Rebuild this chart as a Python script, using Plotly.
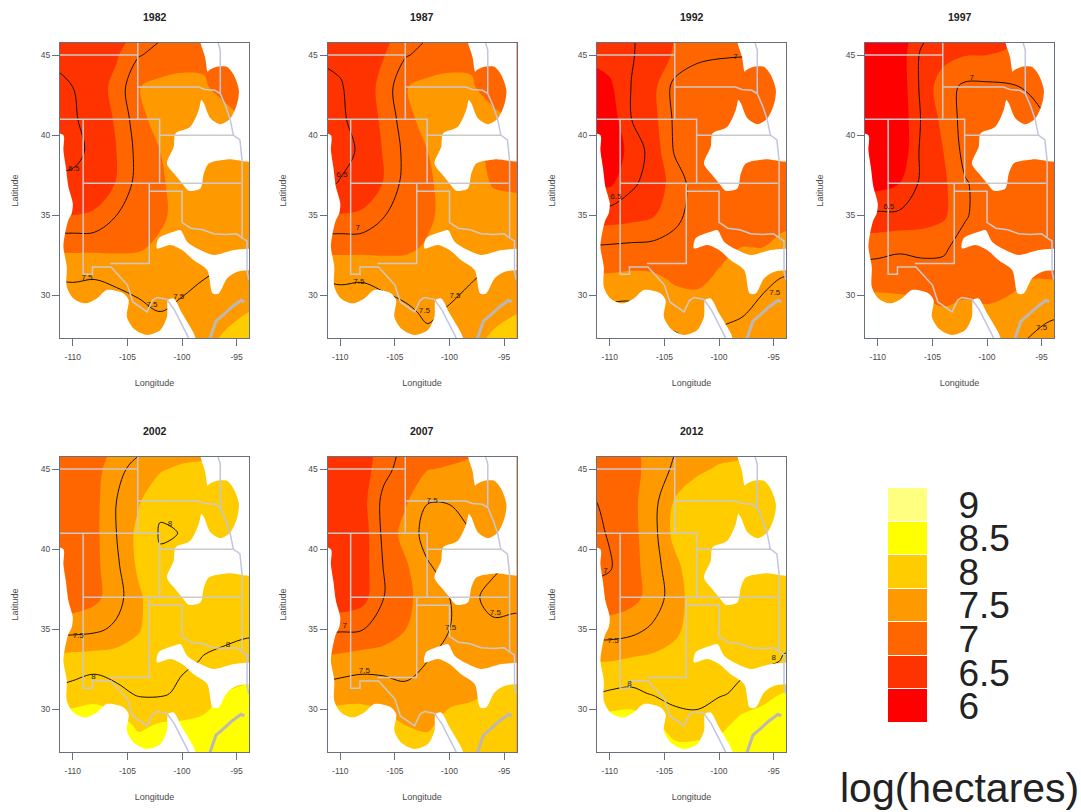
import plotly.graph_objects as go

YEARS = ["1982", "1987", "1992", "1997", "2002", "2007", "2012"]
LON = [-112, -110, -108, -106, -104, -102, -100, -98, -96, -94, -92]
LAT = [47, 45, 43, 41, 39, 37, 35, 33, 31, 29, 27]

Z_1982 = [
    [6.55, 6.55, 6.57, 6.62, 6.75, 6.90, 7.00, 7.10, 7.15, 7.15, 7.15],
    [6.55, 6.55, 6.60, 6.72, 6.98, 7.08, 7.15, 7.20, 7.20, 7.15, 7.15],
    [6.40, 6.50, 6.62, 6.83, 7.24, 7.32, 7.33, 7.28, 7.15, 7.10, 7.10],
    [6.40, 6.47, 6.60, 6.78, 7.15, 7.38, 7.42, 7.42, 7.35, 7.22, 7.20],
    [6.40, 6.42, 6.57, 6.75, 7.08, 7.25, 7.40, 7.50, 7.45, 7.40, 7.40],
    [6.55, 6.57, 6.62, 6.76, 7.10, 7.20, 7.40, 7.45, 7.45, 7.42, 7.42],
    [6.75, 6.75, 6.78, 7.00, 7.12, 7.20, 7.35, 7.40, 7.42, 7.42, 7.42],
    [7.20, 7.20, 7.20, 7.20, 7.22, 7.30, 7.40, 7.42, 7.42, 7.42, 7.42],
    [7.50, 7.49, 7.50, 7.46, 7.43, 7.42, 7.44, 7.50, 7.55, 7.56, 7.56],
    [7.60, 7.60, 7.60, 7.62, 7.55, 7.50, 7.55, 7.58, 7.62, 7.74, 7.80],
    [7.70, 7.70, 7.70, 7.70, 7.60, 7.60, 7.60, 7.65, 7.85, 8.00, 8.05],
]
Z_1987 = [
    [6.55, 6.55, 6.58, 6.65, 6.80, 6.92, 6.98, 7.08, 7.15, 7.15, 7.15],
    [6.55, 6.55, 6.62, 6.74, 6.98, 7.08, 7.15, 7.20, 7.20, 7.15, 7.15],
    [6.35, 6.48, 6.62, 6.83, 7.24, 7.32, 7.33, 7.28, 7.12, 7.08, 7.08],
    [6.32, 6.46, 6.60, 6.80, 7.15, 7.38, 7.42, 7.42, 7.33, 7.20, 7.20],
    [6.22, 6.40, 6.55, 6.77, 7.07, 7.25, 7.40, 7.50, 7.10, 7.05, 7.05],
    [6.40, 6.52, 6.62, 6.76, 7.10, 7.20, 7.38, 7.42, 7.22, 7.18, 7.18],
    [6.75, 6.76, 6.78, 6.99, 7.12, 7.20, 7.35, 7.40, 7.42, 7.42, 7.42],
    [7.18, 7.18, 7.18, 7.18, 7.20, 7.28, 7.40, 7.42, 7.42, 7.42, 7.42],
    [7.50, 7.48, 7.49, 7.45, 7.42, 7.40, 7.43, 7.49, 7.55, 7.56, 7.56],
    [7.60, 7.60, 7.60, 7.58, 7.53, 7.47, 7.52, 7.58, 7.62, 7.72, 7.80],
    [7.70, 7.70, 7.70, 7.65, 7.60, 7.55, 7.60, 7.65, 7.85, 8.00, 8.05],
]
Z_1992 = [
    [6.30, 6.35, 6.48, 6.60, 6.75, 6.80, 6.85, 6.85, 6.90, 6.90, 6.90],
    [6.32, 6.36, 6.48, 6.63, 6.78, 6.95, 6.98, 6.99, 7.00, 7.02, 7.02],
    [6.05, 6.20, 6.51, 6.68, 7.10, 7.14, 7.15, 7.15, 7.12, 7.10, 7.10],
    [6.05, 6.10, 6.50, 6.67, 7.06, 7.15, 7.18, 7.20, 7.20, 7.15, 7.15],
    [6.02, 6.05, 6.35, 6.60, 7.04, 7.15, 7.18, 7.20, 7.20, 7.18, 7.18],
    [6.20, 6.20, 6.45, 6.62, 6.85, 7.15, 7.18, 7.20, 7.20, 7.20, 7.20],
    [6.62, 6.62, 6.66, 6.73, 6.93, 7.12, 7.18, 7.20, 7.20, 7.20, 7.20],
    [7.02, 7.04, 7.06, 7.07, 7.10, 7.13, 7.16, 7.25, 7.25, 7.30, 7.30],
    [7.30, 7.30, 7.32, 7.30, 7.22, 7.18, 7.30, 7.40, 7.45, 7.52, 7.55],
    [7.58, 7.58, 7.58, 7.45, 7.38, 7.41, 7.45, 7.47, 7.56, 7.65, 7.70],
    [7.70, 7.70, 7.70, 7.60, 7.57, 7.50, 7.55, 7.62, 7.68, 7.72, 7.72],
]
Z_1997 = [
    [6.00, 6.05, 6.12, 6.35, 6.55, 6.65, 6.72, 6.72, 6.78, 6.80, 6.80],
    [6.05, 6.05, 6.10, 6.55, 6.66, 6.74, 6.75, 6.76, 6.80, 6.82, 6.82],
    [6.02, 6.02, 6.08, 6.56, 6.90, 7.05, 7.05, 7.03, 6.97, 6.93, 6.93],
    [6.02, 6.02, 6.06, 6.52, 6.82, 7.10, 7.12, 7.12, 7.08, 6.98, 6.98],
    [6.00, 6.02, 6.04, 6.56, 6.75, 7.08, 7.12, 7.13, 7.13, 7.13, 7.13],
    [6.10, 6.15, 6.25, 6.55, 6.70, 6.98, 7.10, 7.15, 7.15, 7.15, 7.15],
    [6.55, 6.55, 6.55, 6.60, 6.70, 6.98, 7.10, 7.15, 7.15, 7.15, 7.15],
    [6.90, 6.92, 6.97, 6.95, 6.97, 7.08, 7.12, 7.15, 7.15, 7.15, 7.15],
    [7.15, 7.15, 7.12, 7.10, 7.08, 7.12, 7.15, 7.20, 7.25, 7.25, 7.25],
    [7.40, 7.40, 7.40, 7.37, 7.28, 7.33, 7.28, 7.30, 7.38, 7.42, 7.42],
    [7.50, 7.50, 7.50, 7.45, 7.40, 7.42, 7.40, 7.42, 7.54, 7.72, 7.72],
]
Z_2002 = [
    [7.10, 7.10, 7.10, 7.25, 7.35, 7.45, 7.50, 7.55, 7.60, 7.60, 7.60],
    [7.15, 7.15, 7.15, 7.42, 7.60, 7.72, 7.80, 7.82, 7.85, 7.85, 7.85],
    [7.10, 7.10, 7.17, 7.50, 7.72, 7.96, 7.93, 7.93, 7.92, 7.90, 7.90],
    [7.00, 7.05, 7.18, 7.50, 7.82, 8.02, 7.995, 7.95, 7.92, 7.90, 7.90],
    [7.00, 7.05, 7.18, 7.45, 7.80, 7.96, 7.95, 7.95, 7.93, 7.93, 7.93],
    [7.05, 7.08, 7.18, 7.40, 7.70, 7.95, 7.97, 7.97, 7.96, 7.93, 7.93],
    [7.42, 7.42, 7.45, 7.55, 7.72, 7.96, 7.96, 7.96, 7.97, 7.97, 7.97],
    [7.85, 7.88, 7.90, 7.90, 7.92, 7.93, 7.97, 8.01, 8.03, 8.08, 8.08],
    [8.03, 8.08, 8.15, 8.05, 7.98, 7.97, 8.04, 8.10, 8.26, 8.32, 8.32],
    [8.45, 8.45, 8.45, 8.40, 8.20, 8.28, 8.29, 8.33, 8.40, 8.42, 8.42],
    [8.45, 8.45, 8.45, 8.45, 8.45, 8.42, 8.40, 8.40, 8.45, 8.45, 8.45],
]
Z_2007 = [
    [6.55, 6.55, 6.60, 6.85, 7.05, 7.05, 7.10, 7.15, 7.20, 7.20, 7.20],
    [6.60, 6.60, 6.62, 6.92, 7.12, 7.24, 7.27, 7.30, 7.32, 7.32, 7.32],
    [6.55, 6.55, 6.65, 7.08, 7.22, 7.49, 7.49, 7.44, 7.40, 7.40, 7.40],
    [6.55, 6.55, 6.60, 7.07, 7.35, 7.60, 7.58, 7.505, 7.45, 7.42, 7.42],
    [6.55, 6.55, 6.62, 7.02, 7.22, 7.48, 7.60, 7.60, 7.55, 7.45, 7.45],
    [6.55, 6.55, 6.65, 7.00, 7.20, 7.35, 7.50, 7.55, 7.42, 7.45, 7.45],
    [6.97, 6.97, 6.99, 7.10, 7.25, 7.38, 7.50, 7.56, 7.55, 7.55, 7.55],
    [7.30, 7.34, 7.40, 7.40, 7.42, 7.50, 7.60, 7.60, 7.60, 7.60, 7.60],
    [7.60, 7.65, 7.65, 7.62, 7.55, 7.60, 7.65, 7.68, 7.79, 7.81, 7.81],
    [7.90, 7.92, 7.95, 7.85, 7.75, 7.70, 7.87, 7.95, 7.95, 7.95, 7.95],
    [7.95, 7.95, 7.95, 7.95, 7.95, 7.95, 7.95, 7.95, 7.97, 7.97, 7.97],
]
Z_2012 = [
    [7.15, 7.15, 7.20, 7.35, 7.45, 7.55, 7.58, 7.62, 7.65, 7.65, 7.65],
    [7.10, 7.12, 7.17, 7.35, 7.55, 7.70, 7.78, 7.80, 7.85, 7.85, 7.85],
    [6.97, 7.05, 7.18, 7.42, 7.78, 7.92, 7.93, 7.93, 7.92, 7.92, 7.92],
    [6.92, 7.02, 7.17, 7.42, 7.85, 7.95, 7.96, 7.95, 7.93, 7.93, 7.93],
    [6.95, 6.98, 7.15, 7.40, 7.68, 7.97, 7.97, 7.97, 7.97, 7.97, 7.97],
    [7.05, 7.08, 7.17, 7.35, 7.65, 7.88, 7.97, 7.97, 7.97, 7.97, 7.97],
    [7.38, 7.38, 7.42, 7.55, 7.70, 7.88, 7.97, 7.97, 7.97, 7.97, 7.97],
    [7.75, 7.75, 7.80, 7.82, 7.85, 7.92, 7.98, 7.96, 7.97, 8.01, 8.01],
    [7.98, 8.03, 8.05, 7.98, 7.90, 7.88, 7.98, 8.03, 8.13, 8.26, 8.26],
    [8.42, 8.42, 8.45, 8.30, 8.15, 8.12, 8.15, 8.36, 8.45, 8.45, 8.45],
    [8.45, 8.45, 8.45, 8.40, 8.36, 8.40, 8.48, 8.45, 8.47, 8.47, 8.47],
]
GRIDS = [Z_1982, Z_1987, Z_1992, Z_1997, Z_2002, Z_2007, Z_2012]

# contour labels: (lon, lat, text)
LABELS_1982 = [(-109.9, 37.9, "6.5"), (-108.7, 31.1, "7.5"), (-102.75, 29.4, "7.5"), (-100.3, 29.9, "7.5")]
LABELS_1987 = [(-109.85, 37.5, "6.5"), (-108.4, 34.2, "7"), (-108.3, 30.85, "7.5"), (-102.3, 29.05, "7.5"), (-99.5, 30.0, "7.5")]
LABELS_1992 = [(-98.5, 44.85, "7"), (-109.45, 36.15, "6.5"), (-94.9, 30.15, "7.5")]
LABELS_1997 = [(-101.4, 43.55, "7"), (-109.0, 35.5, "6.5"), (-95.0, 27.95, "7.5")]
LABELS_2002 = [(-109.5, 34.6, "7.5"), (-108.1, 32.0, "8"), (-101.1, 41.55, "8"), (-95.8, 34.0, "8")]
LABELS_2007 = [(-109.6, 35.2, "7"), (-107.8, 32.4, "7.5"), (-101.6, 43.0, "7.5"), (-95.8, 36.0, "7.5"), (-99.9, 35.1, "7.5")]
LABELS_2012 = [(-110.4, 38.65, "7"), (-109.7, 34.3, "7.5"), (-108.2, 31.6, "8"), (-95.0, 33.2, "8")]
LABELS = [LABELS_1982, LABELS_1987, LABELS_1992, LABELS_1997, LABELS_2002, LABELS_2007, LABELS_2012]

# areas with no data (lon, lat outlines)
NODATA_NE = [(-98.3, 46.5), (-98.3, 45.77), (-97.9, 44.9), (-97.65, 43.96), (-97.5, 44.06), (-96.8, 44.27), (-95.9, 44.27),
             (-95.26, 43.75), (-94.8, 42.82), (-94.95, 41.99), (-95.57, 41.05), (-96.48, 40.68), (-97.4, 41.05), (-98.0, 41.99),
             (-98.23, 42.2), (-98.47, 41.57), (-99.24, 40.53), (-100.6, 40.11), (-100.76, 39.28), (-101.38, 38.24), (-100.76, 37.62),
             (-100.0, 37.0), (-99.39, 36.54), (-98.32, 36.68), (-98.0, 37.62), (-97.55, 38.24), (-95.87, 38.49), (-93.0, 38.49), (-93.0, 46.5)]
NODATA_GAP = [(-93.0, 32.94), (-95.26, 32.84), (-97.1, 32.53), (-98.32, 32.84), (-99.54, 33.36), (-100.15, 34.08), (-100.76, 33.98),
              (-102.14, 33.57), (-102.3, 32.94), (-101.07, 33.15), (-100.0, 32.84), (-98.93, 32.2), (-97.7, 31.59), (-97.19, 30.13),
              (-96.64, 30.13), (-95.87, 31.07), (-94.95, 31.49), (-93.0, 31.59)]
NODATA_SW = [(-112, 27), (-112, 40.1), (-110.86, 40.0), (-110.86, 39.07), (-110.64, 38.04), (-110.4, 36.79), (-110.0, 35.75),
             (-110.1, 35.12), (-110.4, 34.71), (-110.7, 33.88), (-110.86, 33.05), (-110.55, 31.8), (-110.55, 30.55), (-109.94, 29.82),
             (-108.87, 29.51), (-107.8, 29.82), (-106.88, 30.34), (-105.35, 30.13), (-104.89, 29.72), (-105.05, 28.68), (-104.43, 27.95),
             (-103.21, 27.54), (-101.99, 27.85), (-101.38, 28.68), (-101.28, 29.72), (-100.76, 29.82), (-100.0, 28.89), (-98.93, 27.64),
             (-98.62, 27.0), (-98.62, 26.5), (-112, 26.5)]
NODATA = [NODATA_NE, NODATA_GAP, NODATA_SW]

# state borders (lon, lat)
STATE_LINES = [
    [(-111.5, 45), (-104.05, 45)],
    [(-104.05, 46), (-104.05, 41)],
    [(-111.5, 41), (-102.05, 41), (-102.05, 37)],
    [(-104.05, 43), (-98.5, 43), (-97.9, 42.85), (-97, 42.8), (-96.5, 42.6)],
    [(-102.05, 40), (-95.3, 40)],
    [(-109.05, 37), (-94.6, 37)],
    [(-109.05, 41), (-109.05, 31.33), (-108.2, 31.33), (-108.2, 31.78), (-106.5, 31.78), (-105, 30.65), (-104.5, 29.6),
     (-103.2, 28.98), (-102.7, 29.7), (-102.3, 29.88), (-101.4, 29.77)],
    [(-103, 37), (-103, 32), (-106.6, 32)],
    [(-103, 36.5), (-100, 36.5), (-100, 34.56), (-99.2, 34.2), (-98.1, 34.1), (-97.1, 33.85), (-96, 33.8), (-95, 33.85), (-94.5, 33.6)],
    [(-94.5, 38.4), (-94.5, 33.6)],
]
RIVER_LINES = [
    [(-96.8, 46), (-96.5, 45.3), (-96.5, 42.6), (-96.0, 41.8), (-95.6, 41.0), (-95.3, 40), (-94.7, 39.7), (-94.5, 38.4)],
    [(-101.4, 29.77), (-100.7, 29.1), (-99.5, 27.5), (-99.3, 27.2)],
    [(-94.5, 33.6), (-94.05, 33.4), (-94.05, 31.5), (-93.9, 31)],
]
COAST = [(-97.5, 27.2), (-96.9, 28.4), (-96.3, 28.75), (-95.4, 29.3), (-94.6, 29.7), (-94.3, 29.6)]

LEVELS = ["6", "6.5", "7", "7.5", "8", "8.5", "9"]
LEVEL_VALUES = [6, 6.5, 7, 7.5, 8, 8.5, 9]
COLORS = ["#FF0000", "#FF3300", "#FF6600", "#FF9900", "#FFCC00", "#FFFF00", "#FFFF80"]

W, H = 1081, 812
PANEL_LEFT = [60, 327.5, 597, 865, 60, 327.5, 597]
PANEL_TOP = [43, 43, 43, 43, 457, 457, 457]
PANEL_W, PANEL_H = 189, 295
FONT = "Liberation Sans"
BOX = "#66707f"
TXT = "#4a4a4a"

scale = []
n = len(COLORS)
for i, c in enumerate(COLORS):
    scale.append([i / n, c])
    scale.append([(i + 1) / n, c])

fig = go.Figure()
layout = {}
annotations = []

for p, year in enumerate(YEARS):
    s = "" if p == 0 else str(p + 1)
    xa, ya = "x" + s, "y" + s
    z = GRIDS[p]
    fig.add_trace(go.Contour(x=LON, y=LAT, z=z, xaxis=xa, yaxis=ya, showscale=False, hoverinfo="skip",
                             autocontour=False, zmin=5.75, zmax=9.25, colorscale=scale,
                             contours=dict(start=6.25, end=8.75, size=0.5, coloring="fill", showlines=False),
                             line=dict(width=0, smoothing=1.0)))
    fig.add_trace(go.Contour(x=LON, y=LAT, z=z, xaxis=xa, yaxis=ya, showscale=False, hoverinfo="skip",
                             autocontour=False,
                             contours=dict(start=6.5, end=8.5, size=0.5, coloring="none"),
                             line=dict(color="#1a1008", width=1, smoothing=1.0)))
    for poly in NODATA:
        fig.add_trace(go.Scatter(x=[q[0] for q in poly], y=[q[1] for q in poly], xaxis=xa, yaxis=ya, mode="lines",
                                 line=dict(width=0, color="white", shape="spline", smoothing=0.8), fill="toself", fillcolor="white",
                                 hoverinfo="skip", showlegend=False))
    for ln in STATE_LINES:
        fig.add_trace(go.Scatter(x=[q[0] for q in ln], y=[q[1] for q in ln], xaxis=xa, yaxis=ya, mode="lines",
                                 line=dict(width=1.5, color="#cdc9c8"), hoverinfo="skip", showlegend=False))
    for ln in RIVER_LINES:
        fig.add_trace(go.Scatter(x=[q[0] for q in ln], y=[q[1] for q in ln], xaxis=xa, yaxis=ya, mode="lines",
                                 line=dict(width=1.5, color="#c2c6de"), hoverinfo="skip", showlegend=False))
    fig.add_trace(go.Scatter(x=[q[0] for q in COAST], y=[q[1] for q in COAST], xaxis=xa, yaxis=ya, mode="lines",
                             line=dict(width=3, color="#bdb8b4"), hoverinfo="skip", showlegend=False))
    lab = LABELS[p]
    fig.add_trace(go.Scatter(x=[q[0] for q in lab], y=[q[1] for q in lab], xaxis=xa, yaxis=ya, mode="text",
                             text=[q[2] for q in lab], textfont=dict(family=FONT, size=8, color="#2a1a0a"),
                             textposition="middle center", hoverinfo="skip", showlegend=False))
    l, t = PANEL_LEFT[p], PANEL_TOP[p]
    layout["xaxis" + s] = dict(domain=[l / W, (l + PANEL_W) / W], anchor=ya, range=[-111.17, -93.87],
                               tickmode="array", tickvals=[-110, -105, -100, -95], ticktext=["-110", "-105", "-100", "-95"],
                               showgrid=False, zeroline=False, showline=True, mirror=True, linecolor=BOX, linewidth=1,
                               ticks="outside", ticklen=7, tickcolor=BOX, ticklabelstandoff=4,
                               tickfont=dict(family=FONT, size=8.5, color=TXT),
                               title=dict(text="Longitude", font=dict(family=FONT, size=9, color=TXT), standoff=18))
    layout["yaxis" + s] = dict(domain=[1 - (t + PANEL_H) / H, 1 - t / H], anchor=xa, range=[27.35, 45.75],
                               tickmode="array", tickvals=[30, 35, 40, 45], ticktext=["30", "35", "40", "45"],
                               showgrid=False, zeroline=False, showline=True, mirror=True, linecolor=BOX, linewidth=1,
                               ticks="outside", ticklen=7, tickcolor=BOX, tickfont=dict(family=FONT, size=8.5, color=TXT),
                               title=dict(text="Latitude", font=dict(family=FONT, size=9, color=TXT), standoff=20))
    annotations.append(dict(text="<b>%s</b>" % year, xref="paper", yref="paper", x=(l + PANEL_W / 2) / W, y=1 - (t - 26) / H,
                            showarrow=False, xanchor="center", yanchor="middle",
                            font=dict(family=FONT, size=10.5, color="#222222")))

# legend colour key
fig.add_trace(go.Heatmap(x=[0], y=LEVELS, z=[[v] for v in LEVEL_VALUES], xaxis="x8", yaxis="y8", showscale=False,
                         hoverinfo="skip", zmin=5.75, zmax=9.25, colorscale=scale, ygap=1))
layout["xaxis8"] = dict(domain=[888 / W, 927 / W], anchor="y8", visible=False, range=[-0.5, 0.5])
layout["yaxis8"] = dict(domain=[1 - 723 / H, 1 - 488 / H], anchor="x8", side="right", type="category",
                        categoryorder="array", categoryarray=LEVELS, tickmode="array", tickvals=LEVELS, ticktext=LEVELS,
                        showgrid=False, zeroline=False, showline=False,
                        ticks="outside", ticklen=23, tickcolor="rgba(0,0,0,0)", tickwidth=0,
                        tickfont=dict(family=FONT, size=37, color="#222222"))
annotations.append(dict(text="log(hectares)", xref="paper", yref="paper", x=960 / W, y=1 - 788 / H, showarrow=False,
                        xanchor="center", yanchor="middle", font=dict(family=FONT, size=41, color="#222222")))

fig.update_layout(width=W, height=H, margin=dict(l=0, r=0, t=0, b=0, autoexpand=False), paper_bgcolor="white", plot_bgcolor="white",
                  showlegend=False, annotations=annotations, **layout)
fig.write_html("out.html", config={"displayModeBar": False}, post_script="document.body.style.margin='0';")
